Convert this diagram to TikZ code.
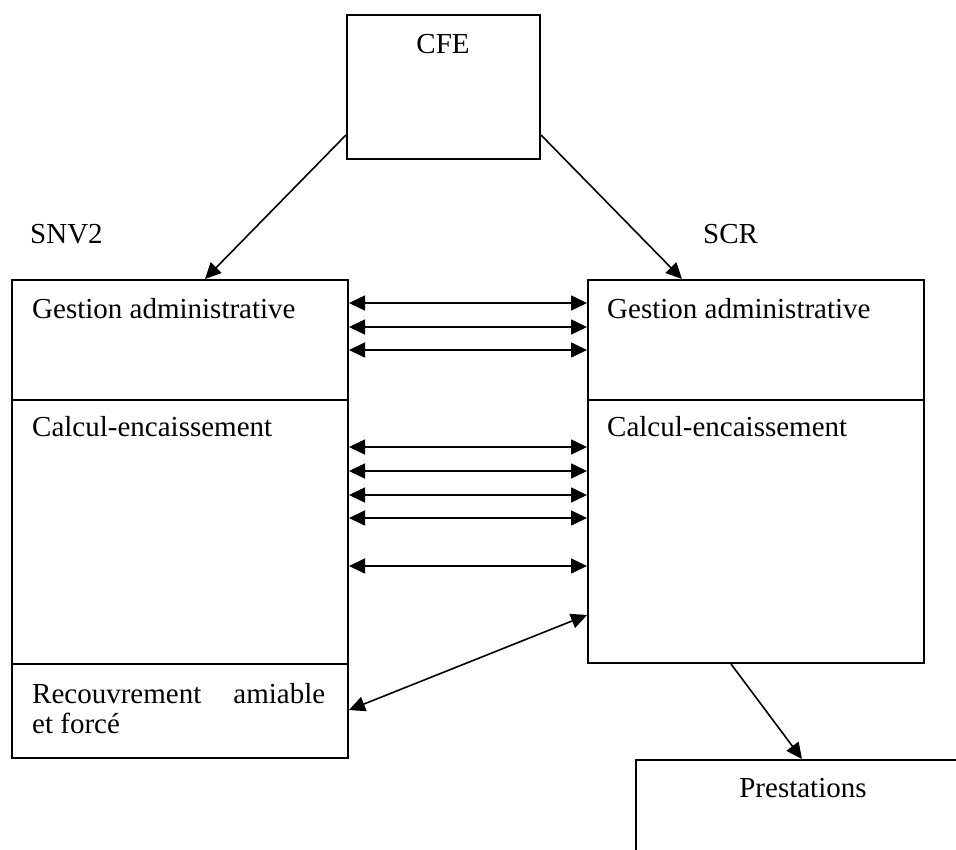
\documentclass[tikz,border=0pt]{standalone}
\usepackage{fontspec}
\setmainfont{Liberation Serif}
\usetikzlibrary{arrows.meta}
\tikzset{
  box/.style={draw, line width=2pt, rectangle, inner sep=0pt, anchor=north west},
  txt/.style={font=\fontsize{29}{30}\selectfont, inner sep=0pt, anchor=base west},
  link/.style={line width=1.6pt, -{Triangle[length=16pt,width=15pt]}},
  dlink/.style={line width=1.6pt, {Triangle[length=16pt,width=15pt]}-{Triangle[length=16pt,width=15pt]}}
}
\begin{document}
\begin{tikzpicture}[x=1pt,y=-1pt]
\fill[white] (0,0) rectangle (956,849);
\useasboundingbox (0,0) rectangle (956,849);
\clip (0,0) rectangle (956,849);
% boxes
\node[box, minimum width=193pt, minimum height=144pt] (cfe) at (346,14) {};
\node[box, minimum width=336pt, minimum height=120pt] (gaL) at (11,279) {};
\node[box, minimum width=336pt, minimum height=264pt] (ceL) at (11,399) {};
\node[box, minimum width=336pt, minimum height=94pt] (rafL) at (11,663) {};
\node[box, minimum width=336pt, minimum height=120pt] (gaR) at (587,279) {};
\node[box, minimum width=336pt, minimum height=263pt] (ceR) at (587,399) {};
\node[box, minimum width=340pt, minimum height=120pt] (pres) at (635,759) {};
% texts
\node[txt, anchor=base] (cfet) at (443,53) {CFE};
\node[txt] (snv) at (30,243) {SNV2};
\node[txt] (scr) at (703,243) {SCR};
\node[txt] (gaLt) at (32,318) {Gestion administrative};
\node[txt] (gaRt) at (607,318) {Gestion administrative};
\node[txt] (ceLt) at (32,436) {Calcul-encaissement};
\node[txt] (ceRt) at (607,436) {Calcul-encaissement};
\node[txt] (raf1) at (32,703) {\hbox to 293pt{Recouvrement\hfill amiable}};
\node[txt] (raf2) at (32,733) {et forcé};
\node[txt, anchor=base] (prest) at (803,797) {Prestations};
% connectors from CFE
\draw[link] ([yshift=-121pt]cfe.north west) -- ([xshift=194pt]gaL.north west);
\draw[link] ([yshift=-121pt]cfe.north east) -- ([xshift=95pt]gaR.north west);
% gestion administrative exchanges
\foreach \d in {24,48,71}
  \draw[dlink] ([yshift=-\d pt]gaL.north east) -- ([yshift=-\d pt]gaR.north west);
% calcul-encaissement exchanges
\foreach \d in {48,72,96,119,167}
  \draw[dlink] ([yshift=-\d pt]ceL.north east) -- ([yshift=-\d pt]ceR.north west);
% recouvrement <-> calcul
\draw[dlink] ([yshift=-47pt]rafL.north east) -- ([yshift=-216pt]ceR.north west);
% to prestations
\draw[link] ([xshift=144pt]ceR.south west) -- ([xshift=167pt]pres.north west);
\end{tikzpicture}
\end{document}
